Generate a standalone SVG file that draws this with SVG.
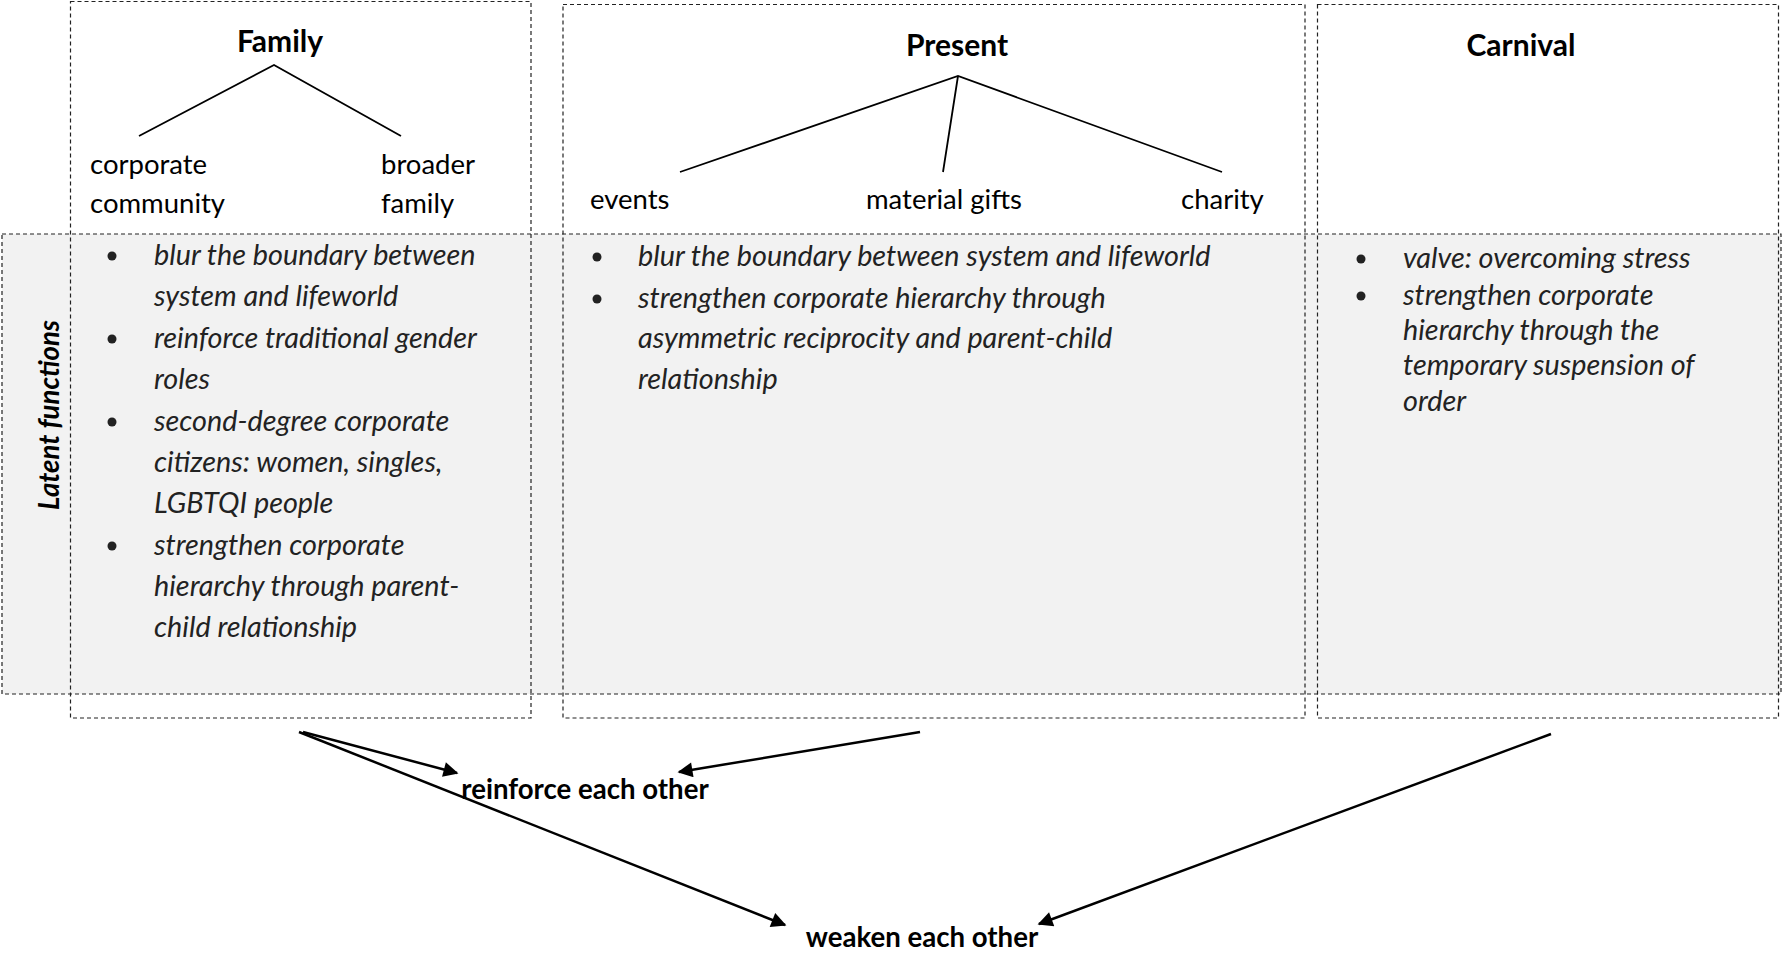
<svg xmlns="http://www.w3.org/2000/svg" width="1784" height="954" viewBox="0 0 1784 954">
<style>
.box{fill:none;stroke:#222;stroke-width:1.2;stroke-dasharray:4 3}
.band{fill:#f2f2f2;stroke:#222;stroke-width:1.2;stroke-dasharray:4 3}
.title{font-family:Lato,"Liberation Sans",sans-serif;font-weight:bold;font-size:30px;fill:#000;text-anchor:middle}
.lbl{font-family:Lato,"Liberation Sans",sans-serif;font-size:27.5px;fill:#000}
.it{font-family:Lato,"Liberation Sans",sans-serif;font-style:italic;font-size:28.8px;fill:#222}
.bold{font-family:Lato,"Liberation Sans",sans-serif;font-weight:bold;font-size:27.6px;fill:#000}
.tree{stroke:#000;stroke-width:1.8;fill:none}
.arr{stroke:#000;stroke-width:2.5;fill:none;marker-end:url(#ah)}
</style>
<defs>
<marker id="ah" viewBox="0 0 10 10" refX="9" refY="5" markerWidth="7" markerHeight="6" markerUnits="strokeWidth" orient="auto">
<path d="M0,0 L10,5 L0,10 z" fill="#000"/>
</marker>
</defs>
<rect width="1784" height="954" fill="#fff"/>
<g id="latent">
<rect class="band" x="2" y="234" width="1779" height="460"/>
<text class="bold" font-style="italic" font-size="28.9" transform="translate(59,415) rotate(-90)" text-anchor="middle">Latent functions</text>
</g>
<g id="family">
<rect class="box" x="70.5" y="1.5" width="460.5" height="716.5"/>
<text class="title" x="280" y="52">Family</text>
<path class="tree" d="M139,136 L274,65 L401,136"/>
<text class="lbl" x="90" y="174">corporate</text>
<text class="lbl" x="90" y="213">community</text>
<text class="lbl" x="381" y="174">broader</text>
<text class="lbl" x="381" y="213">family</text>
<g class="it">
<circle cx="112" cy="256" r="4.5"/><text x="154" y="265">blur the boundary between</text>
<text x="154" y="306">system and lifeworld</text>
<circle cx="112" cy="339" r="4.5"/><text x="154" y="348">reinforce traditional gender</text>
<text x="154" y="389">roles</text>
<circle cx="112" cy="422" r="4.5"/><text x="154" y="431">second-degree corporate</text>
<text x="154" y="472">citizens: women, singles,</text>
<text x="154" y="513">LGBTQI people</text>
<circle cx="112" cy="546" r="4.5"/><text x="154" y="555">strengthen corporate</text>
<text x="154" y="596">hierarchy through parent-</text>
<text x="154" y="637">child relationship</text>
</g>
</g>
<g id="present">
<rect class="box" x="563" y="4.5" width="742" height="713.5"/>
<text class="title" x="957" y="56">Present</text>
<path class="tree" d="M680,172 L958,76 L1222,172 M958,76 L943,172"/>
<text class="lbl" x="590" y="209">events</text>
<text class="lbl" x="866" y="209">material gifts</text>
<text class="lbl" x="1181" y="209">charity</text>
<g class="it">
<circle cx="597" cy="257" r="4.5"/><text x="638" y="266">blur the boundary between system and lifeworld</text>
<circle cx="597" cy="299" r="4.5"/><text x="638" y="308">strengthen corporate hierarchy through</text>
<text x="638" y="348">asymmetric reciprocity and parent-child</text>
<text x="638" y="389">relationship</text>
</g>
</g>
<g id="carnival">
<rect class="box" x="1317.5" y="4.5" width="461" height="713.5"/>
<text class="title" x="1521" y="56">Carnival</text>
<g class="it">
<circle cx="1361" cy="259" r="4.5"/><text x="1403" y="268">valve: overcoming stress</text>
<circle cx="1361" cy="296" r="4.5"/><text x="1403" y="305">strengthen corporate</text>
<text x="1403" y="340">hierarchy through the</text>
<text x="1403" y="375">temporary suspension of</text>
<text x="1403" y="411">order</text>
</g>
</g>
<g id="reinforce"><text class="bold" x="585" y="799" text-anchor="middle">reinforce each other</text></g>
<g id="weaken"><text class="bold" x="922" y="947" text-anchor="middle">weaken each other</text></g>
<g id="connectors">
<line class="arr" x1="303" y1="732" x2="457" y2="773"/>
<line class="arr" x1="299" y1="732" x2="785" y2="925"/>
<line class="arr" x1="920" y1="732" x2="679" y2="772"/>
<line class="arr" x1="1551" y1="734" x2="1039" y2="924"/>
</g>
</svg>
